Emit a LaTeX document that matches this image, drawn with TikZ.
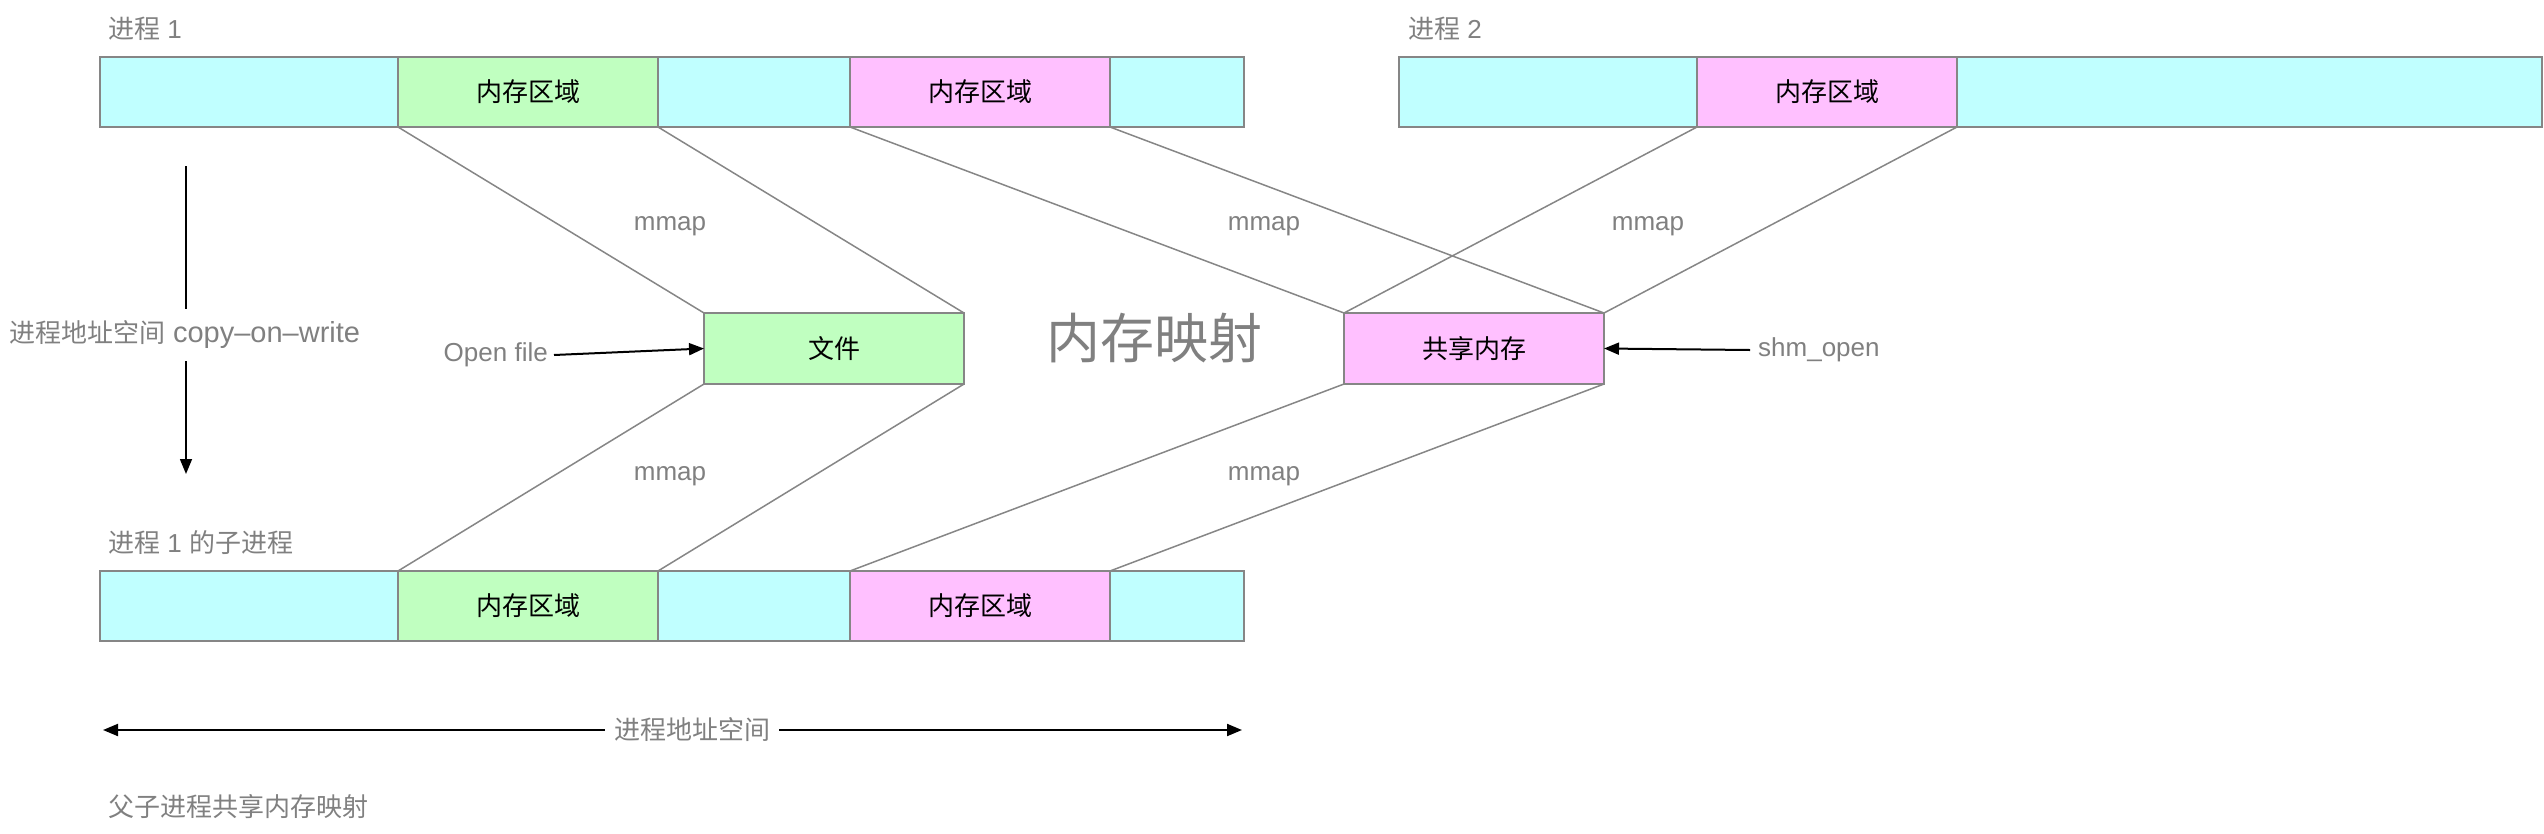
\documentclass[tikz,border=0pt]{standalone}
\usepackage{fontspec}
\setmainfont{Liberation Sans}
\newfontfamily\cjk{Noto Sans CJK SC}
\usetikzlibrary{arrows.meta}
\definecolor{segcyan}{HTML}{C0FFFF}
\definecolor{segmint}{HTML}{C0FFC0}
\definecolor{segpink}{HTML}{FFC0FF}
\definecolor{linegray}{HTML}{868686}
\definecolor{labelgray}{HTML}{808080}
\newcommand\zh[1]{{\cjk #1}}
\newcommand\txtfont{\fontsize{26}{30}\selectfont}
\newcommand\bigfont{\fontsize{54}{60}\selectfont}

\begin{document}
\begin{tikzpicture}[x=1pt,y=-1pt,
  seg/.style={draw=linegray,line width=1.5pt,inner sep=0pt,outer sep=0pt,minimum height=70pt,anchor=north west,font=\txtfont},
  lbl/.style={text=labelgray,font=\txtfont,inner sep=2pt},
  map/.style={draw=linegray,line width=1.5pt},
  arr/.style={draw=black,line width=2pt,-{Triangle[length=15pt,width=12pt]}}]

\useasboundingbox (0,0) rectangle (2544,833);

% Processo 1

\node[lbl,anchor=west] (p1lbl) at (106,29) {\zh{进程} 1};
\node[seg,fill=segcyan,minimum width=298pt] (p1a) at (100,57) {};
\node[seg,fill=segmint,minimum width=260pt] (p1b) at (p1a.north east) {\zh{内存区域}};
\node[seg,fill=segcyan,minimum width=192pt] (p1c) at (p1b.north east) {};
\node[seg,fill=segpink,minimum width=260pt] (p1d) at (p1c.north east) {\zh{内存区域}};
\node[seg,fill=segcyan,minimum width=134pt] (p1e) at (p1d.north east) {};

% Processo 2

\node[lbl,anchor=west] (p2lbl) at (1406,29) {\zh{进程} 2};
\node[seg,fill=segcyan,minimum width=298pt] (p2a) at (1399,57) {};
\node[seg,fill=segpink,minimum width=260pt] (p2b) at (p2a.north east) {\zh{内存区域}};
\node[seg,fill=segcyan,minimum width=585pt] (p2c) at (p2b.north east) {};

% Processo figlio

\node[lbl,anchor=west] (chlbl) at (106,543) {\zh{进程} 1 \zh{的子进程}};
\node[seg,fill=segcyan,minimum width=298pt] (cha) at (100,571) {};
\node[seg,fill=segmint,minimum width=260pt] (chb) at (cha.north east) {\zh{内存区域}};
\node[seg,fill=segcyan,minimum width=192pt] (chc) at (chb.north east) {};
\node[seg,fill=segpink,minimum width=260pt] (chd) at (chc.north east) {\zh{内存区域}};
\node[seg,fill=segcyan,minimum width=134pt] (che) at (chd.north east) {};

% File e memoria condivisa

\node[seg,fill=segmint,minimum width=260pt,minimum height=71pt] (file) at (704,313) {\zh{文件}};
\node[seg,fill=segpink,minimum width=260pt,minimum height=71pt] (shm) at (1344,313) {\zh{共享内存}};
\node[text=labelgray,font=\bigfont\cjk] (title) at (1154,338) {内存映射};

% Mappature

\draw[map] (p1b.south west) -- (file.north west);
\draw[map] (p1b.south east) -- (file.north east);
\draw[map] (p1d.south west) -- (shm.north west);
\draw[map] (p1d.south east) -- (shm.north east);
\draw[map] (p2b.south west) -- (shm.north west);
\draw[map] (p2b.south east) -- (shm.north east);
\draw[map] (file.south west) -- (chb.north west);
\draw[map] (file.south east) -- (chb.north east);
\draw[map] (shm.south west) -- (chd.north west);
\draw[map] (shm.south east) -- (chd.north east);

\node[lbl] (mm1) at (670,226) {mmap};
\node[lbl] (mm2) at (1264,226) {mmap};
\node[lbl] (mm3) at (1648,226) {mmap};
\node[lbl] (mm4) at (670,476) {mmap};
\node[lbl] (mm5) at (1264,476) {mmap};

% Apertura

\node[lbl,anchor=east,inner sep=6pt] (ofile) at (554,355) {Open file};
\draw[arr] (ofile.east) -- (file.west);
\node[lbl,anchor=west,inner sep=8pt] (shmo) at (1750,350) {shm\_open};
\draw[arr] (shmo.west) -- (shm.east);

% Copy-on-write

\coordinate (cowtop) at (186,166);
\coordinate (cowbot) at (186,474);
\node[lbl,inner sep=12pt] (cowlbl) at (185,335) {\zh{进程地址空间} {\fontsize{29}{32}\selectfont copy--on--write}};
\draw[line width=1.5pt] (cowtop) -- (cowtop |- cowlbl.north);
\draw[arr,line width=1.5pt] (cowtop |- cowlbl.south) -- (cowbot);

% Spazio degli indirizzi

\coordinate (asl) at (103,730);
\coordinate (asr) at (1242,730);
\node[lbl,inner sep=9pt] (aslbl) at (692,730) {\zh{进程地址空间}};
\draw[arr] (aslbl.west) -- (asl);
\draw[arr] (aslbl.east) -- (asr);

\node[lbl,anchor=west] (footer) at (106,807) {\zh{父子进程共享内存映射}};

\end{tikzpicture}
\end{document}
